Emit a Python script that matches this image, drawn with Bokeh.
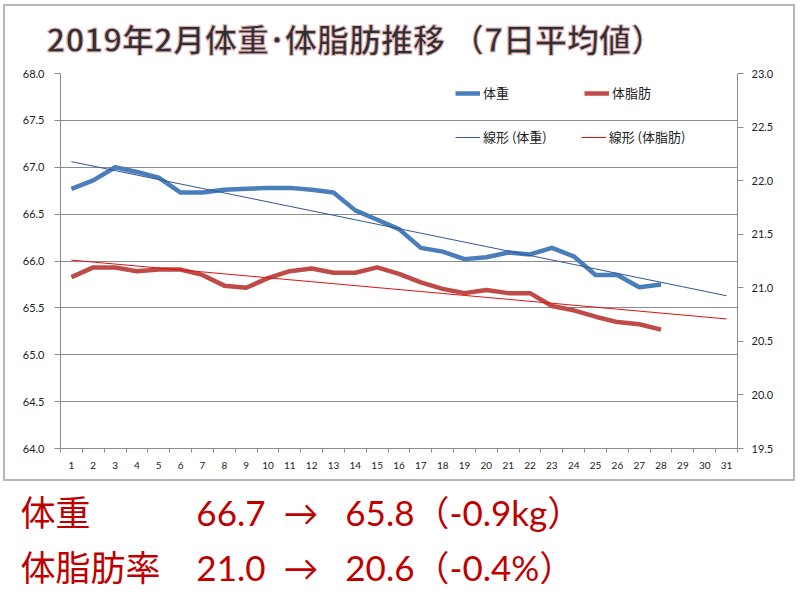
import numpy as np
from bokeh.plotting import figure
from bokeh.models import (Range1d, LinearAxis, FixedTicker, NumeralTickFormatter,
                          Title, Legend, LegendItem)
from bokeh.embed import file_html
from bokeh.resources import INLINE

# ---------------- data ----------------
days = list(range(1, 29))
weight = [66.77, 66.86, 67.00, 66.95, 66.89, 66.73, 66.73, 66.76, 66.77, 66.78,
          66.78, 66.76, 66.73, 66.54, 66.44, 66.34, 66.14, 66.10, 66.02, 66.04,
          66.09, 66.07, 66.14, 66.05, 65.85, 65.85, 65.72, 65.75]
body_fat = [21.10, 21.19, 21.19, 21.155, 21.17, 21.17, 21.12, 21.02, 21.00, 21.09,
            21.155, 21.18, 21.14, 21.14, 21.19, 21.13, 21.05, 20.99, 20.95, 20.98,
            20.95, 20.95, 20.83, 20.79, 20.73, 20.68, 20.66, 20.61]
axis_days = list(range(1, 32))
left_ticks = [64.0, 64.5, 65.0, 65.5, 66.0, 66.5, 67.0, 67.5, 68.0]
right_ticks = [19.5, 20.0, 20.5, 21.0, 21.5, 22.0, 22.5, 23.0]

title_text = "2019年2月体重･体脂肪推移 （7日平均値）"
legend_labels = ["体重", "体脂肪", "線形 (体重)", "線形 (体脂肪)"]
summary_names = ["体重\u3000\u3000", "体脂肪率"]
summary_start = ["66.7", "21.0"]
summary_end = ["65.8", "20.6"]
summary_change = ["（-0.9kg）", "（-0.4%）"]

# linear trend lines (like the spreadsheet's linear trendline, forecast to day 31)
w_fit = np.polyfit(days, weight, 1)
f_fit = np.polyfit(days, body_fat, 1)
weight_trend = list(np.polyval(w_fit, axis_days))
fat_trend = list(np.polyval(f_fit, axis_days))

# ---------------- figure ----------------
GRID = "#8c8c8c"
BOX = "#b8b8b8"
box_css = ", ".join([
    f"linear-gradient({BOX},{BOX}) 3px 4px / 792px 2px no-repeat",
    f"linear-gradient({BOX},{BOX}) 3px 479px / 792px 2px no-repeat",
    f"linear-gradient({BOX},{BOX}) 3px 4px / 2px 477px no-repeat",
    f"linear-gradient({BOX},{BOX}) 793px 4px / 2px 477px no-repeat",
    "#ffffff",
])
p = figure(width=800, height=606, output_backend="svg", toolbar_location=None,
           x_range=Range1d(0.5, 31.5), y_range=Range1d(64.0, 68.0),
           min_border_left=60, min_border_right=63, min_border_top=72,
           min_border_bottom=158, outline_line_color=None,
           background_fill_color="white", border_fill_color=None,
           styles={"background": box_css})
p.extra_y_ranges = {"fat": Range1d(19.5, 23.0)}

# x axis
xa = p.xaxis[0]
xa.ticker = FixedTicker(ticks=axis_days, minor_ticks=[d - 0.5 for d in axis_days] + [31.5])
xa.major_tick_in = 0
xa.major_tick_out = 0
xa.minor_tick_in = 0
xa.minor_tick_out = 4
xa.minor_tick_line_color = GRID
xa.axis_line_color = GRID
xa.major_label_text_font = "Lato"
xa.major_label_text_font_size = "10px"
xa.major_label_text_color = "#222222"
xa.major_label_standoff = 9

# left axis
ya = p.yaxis[0]
ya.ticker = FixedTicker(ticks=left_ticks)
ya.formatter = NumeralTickFormatter(format="0.0")
ya.major_tick_in = 0
ya.major_tick_out = 6
ya.minor_tick_line_color = None
ya.axis_line_color = GRID
ya.major_tick_line_color = GRID
ya.major_label_text_font = "Lato"
ya.major_label_text_font_size = "11px"
ya.major_label_text_color = "#222222"
ya.major_label_standoff = 10

# right axis
ra = LinearAxis(y_range_name="fat", ticker=FixedTicker(ticks=right_ticks),
                formatter=NumeralTickFormatter(format="0.0"))
ra.major_tick_in = 0
ra.major_tick_out = 6
ra.minor_tick_line_color = None
ra.axis_line_color = GRID
ra.major_tick_line_color = GRID
ra.major_label_text_font = "Lato"
ra.major_label_text_font_size = "11px"
ra.major_label_text_color = "#222222"
ra.major_label_standoff = 8
p.add_layout(ra, "right")

p.xgrid.visible = False
p.ygrid.ticker = FixedTicker(ticks=left_ticks)
p.ygrid.grid_line_color = GRID

# series
r_w = p.line(days, weight, line_color="#4a7ebb", line_width=4.5, line_join="round")
r_f = p.line(days, body_fat, line_color="#be4b48", line_width=4.5, line_join="round",
             y_range_name="fat")
r_wt = p.line(axis_days, weight_trend, line_color="#2f5597", line_width=1)
r_ft = p.line(axis_days, fat_trend, line_color="#e01010", line_width=1, y_range_name="fat")

# legends (two rows)
leg_kw = dict(orientation="horizontal", border_line_color=None, background_fill_alpha=0,
              padding=0, margin=0, glyph_width=25, glyph_height=16, label_standoff=3,
              label_text_font="Noto Sans CJK JP", label_text_font_size="13px",
              label_text_color="#222222", label_height=16)
leg1 = Legend(items=[LegendItem(label=legend_labels[0], renderers=[r_w]),
                     LegendItem(label=legend_labels[1], renderers=[r_f])],
              location=(395, 346), spacing=75, **leg_kw)
leg2 = Legend(items=[LegendItem(label=legend_labels[2], renderers=[r_wt]),
                     LegendItem(label=legend_labels[3], renderers=[r_ft])],
              location=(395, 302), spacing=34, **leg_kw)
p.add_layout(leg1)
p.add_layout(leg2)

# title above the plot area
title = Title(text=title_text, align="left", offset=-14, standoff=25,
              text_font="Noto Sans CJK JP", text_font_style="bold",
              text_font_size="32px", text_color="#303030")
if "text_outline_color" in Title.properties():
    title.text_outline_color = "#e9bcc0"
p.add_layout(title, "above")

# summary lines below the chart (one two-line title, columns kept with fixed spaces)
NB = "\u00a0"
lines = []
for i in range(2):
    lines.append(summary_names[i] + NB * 4 + summary_start[i] + NB * 2 + "→" + NB * 3
                 + summary_end[i] + summary_change[i])
p.add_layout(Title(text="\n".join(lines), align="left", offset=-40, standoff=35,
                   text_font="Lato, Noto Sans CJK JP", text_font_style="normal",
                   text_font_size="35px", text_color="#c00000",
                   text_line_height=1.31), "below")

open("out.html", "w").write(file_html(p, INLINE))
